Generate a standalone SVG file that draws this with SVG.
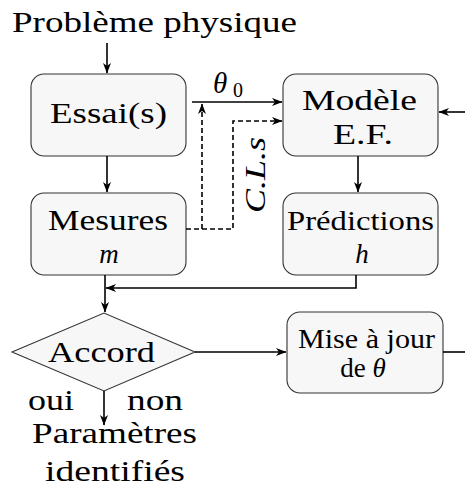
<svg xmlns="http://www.w3.org/2000/svg" width="465" height="488" viewBox="0 0 465 488">
  <style>
    .box { fill: #f7f7f7; stroke: #333; stroke-width: 1.1; }
    .t { font-family: "Liberation Serif", "DejaVu Serif", serif; font-size: 29px; fill: #000; text-anchor: middle; }
    .s { font-size: 27px; }
    .it { font-style: italic; }
    .ln { fill: none; stroke: #000; stroke-width: 1.6; }
    .dash { stroke-dasharray: 5 3; }
  </style>
  <defs>
    <marker id="arr" markerWidth="11" markerHeight="8" refX="10" refY="4" orient="auto" markerUnits="userSpaceOnUse">
      <path d="M0,0 L10.5,4 L0,8 L3,4 Z" fill="#000"/>
    </marker>
  </defs>

  <rect width="465" height="488" fill="#fff"/>

  <text class="t" x="154.5" y="32" textLength="285" lengthAdjust="spacingAndGlyphs">Problème physique</text>

  <g id="essai">
    <rect class="box" x="31" y="74" width="155" height="82" rx="13"/>
    <text class="t" x="108.5" y="123" textLength="117" lengthAdjust="spacingAndGlyphs">Essai(s)</text>
  </g>

  <g id="modele">
    <rect class="box" x="283" y="74" width="155" height="82" rx="13"/>
    <text class="t" x="359.5" y="110" textLength="115" lengthAdjust="spacingAndGlyphs">Modèle</text>
    <text class="t" x="363" y="144" textLength="60" lengthAdjust="spacingAndGlyphs">E.F.</text>
  </g>

  <g id="mesures">
    <rect class="box" x="31" y="193" width="155" height="82" rx="13"/>
    <text class="t" x="108" y="230" textLength="120" lengthAdjust="spacingAndGlyphs">Mesures</text>
    <text class="t s it" x="109" y="263">m</text>
  </g>

  <g id="predictions">
    <rect class="box" x="283" y="193" width="155" height="82" rx="13"/>
    <text class="t s" x="360.5" y="230" textLength="147" lengthAdjust="spacingAndGlyphs">Prédictions</text>
    <text class="t s it" x="362" y="263">h</text>
  </g>

  <g id="accord">
    <polygon class="box" points="12,352 104,313 195,352 104,391"/>
    <text class="t" x="101.5" y="362" textLength="107" lengthAdjust="spacingAndGlyphs">Accord</text>
  </g>

  <g id="miseajour">
    <rect class="box" x="287" y="312" width="156" height="81" rx="13"/>
    <text class="t s" x="366.5" y="348" textLength="137" lengthAdjust="spacingAndGlyphs">Mise à jour</text>
    <text class="t s" x="363" y="377">de <tspan class="it">θ</tspan></text>
  </g>

  <g id="resultat">
    <text class="t" x="114.5" y="443" textLength="165" lengthAdjust="spacingAndGlyphs">Paramètres</text>
    <text class="t" x="115" y="481" textLength="140" lengthAdjust="spacingAndGlyphs">identifiés</text>
  </g>

  <g id="connectors">
    <path class="ln" d="M107,43 V73" marker-end="url(#arr)"/>
    <path class="ln" d="M107,156 V192" marker-end="url(#arr)"/>
    <path class="ln" d="M192,102 H282" marker-end="url(#arr)"/>
    <path class="ln" d="M358,156 V192" marker-end="url(#arr)"/>
    <path class="ln" d="M465,112 H439" marker-end="url(#arr)"/>
    <path class="ln dash" d="M186,229 H233 V121 H282" marker-end="url(#arr)"/>
    <path class="ln dash" d="M202,229 V104" marker-end="url(#arr)"/>
    <path class="ln" d="M356,275 V288 H106" marker-end="url(#arr)"/>
    <path class="ln" d="M105,275 V312" marker-end="url(#arr)"/>
    <path class="ln" d="M195,352 H286" marker-end="url(#arr)"/>
    <path class="ln" d="M443,352 H465"/>
    <path class="ln" d="M104,391 V425" marker-end="url(#arr)"/>
  </g>

  <g id="labels">
    <text class="t it" x="213" y="93" style="text-anchor:start">θ</text>
    <text class="t" x="233" y="97" style="text-anchor:start;font-size:20px">0</text>
    <text class="t it" transform="translate(265,175) rotate(-90)" textLength="76" lengthAdjust="spacingAndGlyphs">C.L.s</text>
    <text class="t" x="51" y="410" textLength="46" lengthAdjust="spacingAndGlyphs">oui</text>
    <text class="t" x="155" y="410" textLength="56" lengthAdjust="spacingAndGlyphs">non</text>
  </g>
</svg>
